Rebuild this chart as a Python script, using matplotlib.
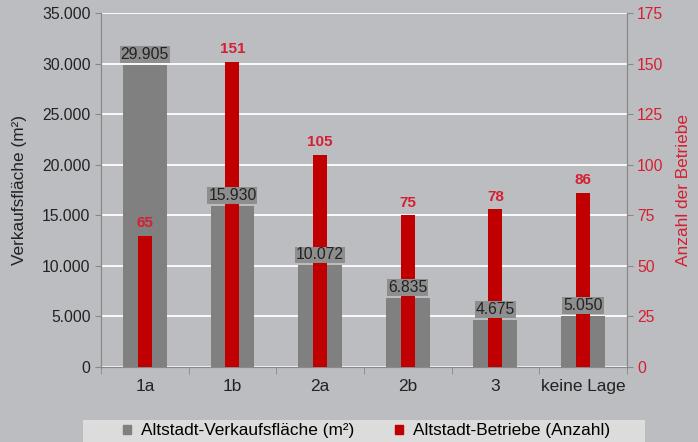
import numpy as np
import matplotlib.pyplot as plt
from matplotlib.patches import Patch, Rectangle

plt.rcParams['font.family'] = ['Liberation Sans', 'DejaVu Sans']

lagen = ['1a', '1b', '2a', '2b', '3', 'keine Lage']
flaeche = [29905, 15930, 10072, 6835, 4675, 5050]
betriebe = [65, 151, 105, 75, 78, 86]

bg = '#bcbdc1'
grau = '#808080'
rot = '#c00000'
rot_text = '#d42030'
fs_tick = 11.3   # Zahlen an den y-Achsen und Balken
fs_text = 12.4   # Kategorien, Achsentitel, Legende

fig = plt.figure(figsize=(6.98, 4.42), dpi=100, facecolor=bg)
ax = fig.add_axes([0.1447, 0.1697, 0.7533, 0.8009], facecolor=bg)
ax2 = ax.twinx()

x = np.arange(len(lagen))
ax.bar(x, flaeche, width=0.5, color=grau, zorder=2)
ax.set_ylim(0, 35000)
ax.set_xlim(-0.5, len(lagen) - 0.5)
ax.set_yticks(np.arange(0, 35001, 5000))
ax.set_yticklabels([f'{v:,}'.replace(',', '.') for v in range(0, 35001, 5000)])
ax.yaxis.grid(True, color='white', linewidth=1.3, zorder=0)
ax.set_axisbelow(True)

ax2.bar(x, betriebe, width=0.16, color=rot, zorder=3)
ax2.set_ylim(0, 175)
ax2.set_yticks(np.arange(0, 176, 25))

# Beschriftungen
for xi, v in zip(x, flaeche):
    ax2.annotate(f'{v:,}'.replace(',', '.'), xy=(xi, v * 175 / 35000), xytext=(0, 2),
                 textcoords='offset points', ha='center', va='bottom', fontsize=fs_tick,
                 color='#222222', zorder=5,
                 bbox=dict(boxstyle='square,pad=0.05', fc='#8e8e8e', ec='none'))
for xi, v in zip(x, betriebe):
    ax2.annotate(str(v), xy=(xi, v), xytext=(0, 4), textcoords='offset points',
                 ha='center', va='bottom', fontsize=11, fontweight='bold',
                 color=rot_text, zorder=5)

# Achsen
ax.set_xticks(x)
ax.set_xticklabels(lagen, fontsize=fs_text, color='#222222')
ax.set_xticks(np.arange(-0.5, len(lagen), 1), minor=True)
ax.tick_params(axis='x', which='major', length=0, pad=9)
ax.tick_params(axis='x', which='minor', length=5, color='#888888')
ax.tick_params(axis='y', length=4, color='#888888', labelsize=fs_tick, labelcolor='#222222')
ax2.tick_params(axis='y', length=4, color='#888888', labelsize=fs_tick, labelcolor=rot_text)

for a in (ax, ax2):
    a.spines['top'].set_visible(False)
    for s in ('left', 'right', 'bottom'):
        a.spines[s].set_color('#888888')

ax.set_ylabel('Verkaufsfläche (m²)', fontsize=fs_text, color='#222222', labelpad=11)
ax2.set_ylabel('Anzahl der Betriebe', fontsize=fs_text, color=rot_text, labelpad=9)

# Legende mit hellgrauem Kasten
fig.patches.append(Rectangle((83 / 698, 0), 562 / 698, 22 / 442, transform=fig.transFigure,
                             facecolor='#dcdcdc', edgecolor='none', zorder=0))
handles = [Patch(color=grau, label='Altstadt-Verkaufsfläche (m²)'),
           Patch(color=rot, label='Altstadt-Betriebe (Anzahl)')]
fig.legend(handles=handles, loc='center', bbox_to_anchor=(367 / 698, 11 / 442),
           ncol=2, frameon=False, fontsize=fs_text,
           handlelength=0.46, handleheight=0.46, handletextpad=0.58, borderpad=0,
           columnspacing=2.37)

fig.savefig('out.png', dpi=100, facecolor=bg)
